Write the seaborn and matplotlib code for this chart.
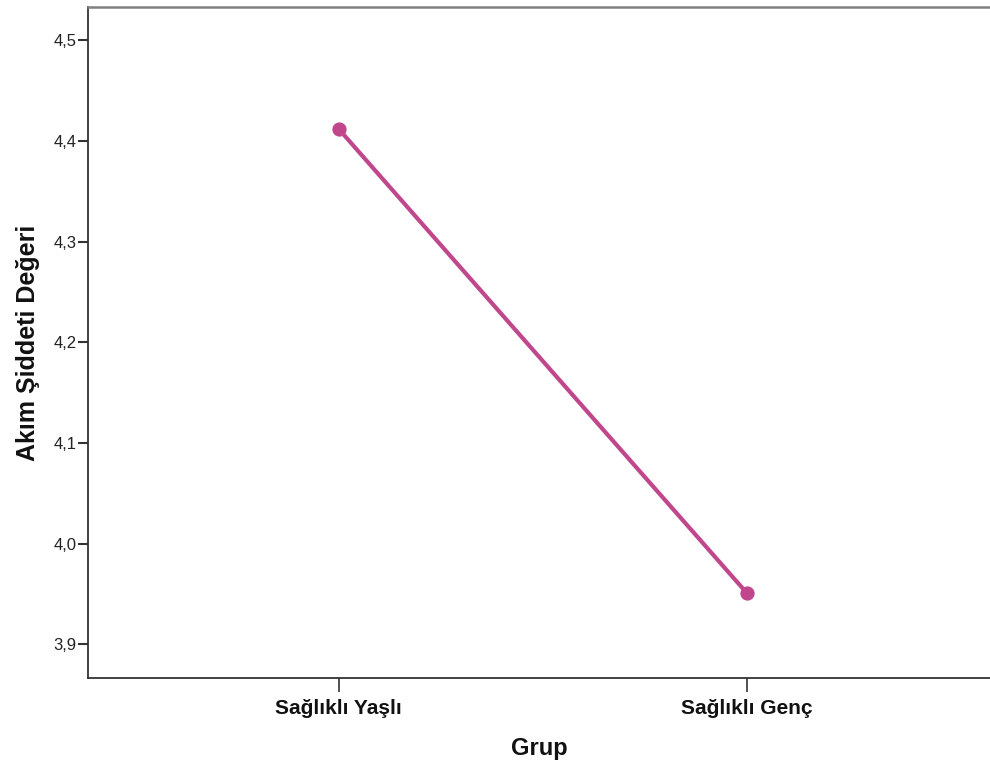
import numpy as np
import pandas as pd
import seaborn as sns
import matplotlib
matplotlib.use('Agg')
from matplotlib import pyplot as plt
from matplotlib.ticker import FixedLocator, FixedFormatter

# data
groups = ['Sağlıklı Yaşlı', 'Sağlıklı Genç']
akim_values = [4.412, 3.951]
y_ticks = [3.9, 4.0, 4.1, 4.2, 4.3, 4.4, 4.5]
y_tick_labels = ['3,9', '4,0', '4,1', '4,2', '4,3', '4,4', '4,5']

df = pd.DataFrame({'Grup': groups, 'Akım Şiddeti Değeri': akim_values})

sns.set_style('white')
plt.rcParams['font.family'] = ['Liberation Sans', 'DejaVu Sans']

line_color = '#C1478D'

fig = plt.figure(figsize=(9.9, 7.65), dpi=100)
ax = fig.add_axes([0.0889, 0.1137, 0.9111, 0.8771])

sns.pointplot(data=df, x='Grup', y='Akım Şiddeti Değeri', order=groups,
              errorbar=None, color=line_color, markers='o', linestyles='-',
              markersize=8, linewidth=3, ax=ax)

ax.set_xlim(-0.614, 1.596)
ax.set_ylim(3.8665, 4.533)
ax.yaxis.set_major_locator(FixedLocator(y_ticks))
ax.yaxis.set_major_formatter(FixedFormatter(y_tick_labels))

# SPSS-like frame
for side in ['left', 'bottom']:
    ax.spines[side].set_color('#333333')
    ax.spines[side].set_linewidth(1.3)
ax.spines['top'].set_color('#808080')
ax.spines['top'].set_linewidth(1.8)
ax.spines['right'].set_visible(False)

ax.tick_params(axis='y', direction='out', length=7, width=1.5, color='#333333',
               left=True, labelsize=12, pad=1, labelcolor='#222222')
ax.tick_params(axis='x', direction='out', length=10, width=1.2, color='#333333',
               bottom=True, labelsize=15, pad=5, labelcolor='#111111')
for lbl in ax.get_xticklabels():
    lbl.set_fontweight('bold')

ax.set_xlabel('Grup', fontsize=17, fontweight='bold', labelpad=14, color='#111111')
ax.set_ylabel('Akım Şiddeti Değeri', fontsize=18, fontweight='bold', labelpad=10,
              color='#111111')

fig.savefig('out.png', dpi=100)
